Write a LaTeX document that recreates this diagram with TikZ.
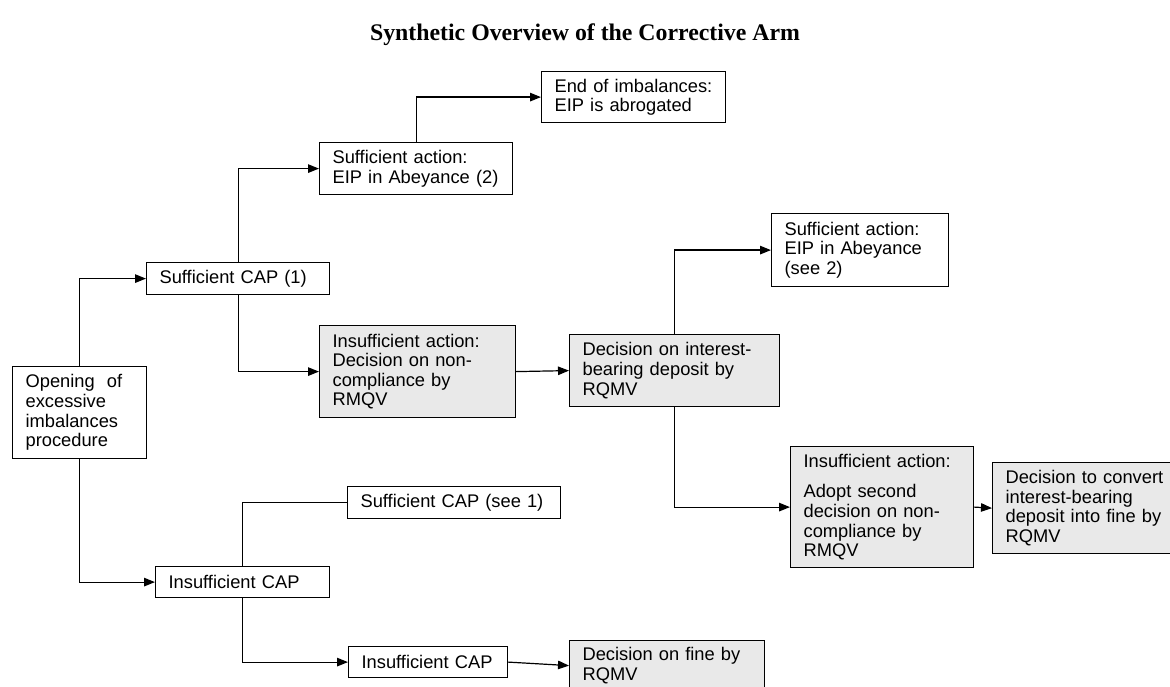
\documentclass[tikz,border=0pt]{standalone}
\usepackage{fontspec}
\newfontfamily\arialf{Liberation Sans}
\newfontfamily\timesf{Liberation Serif}
\usetikzlibrary{arrows.meta}
\definecolor{boxgray}{RGB}{233,233,233}
\begin{document}
\begin{tikzpicture}[x=1pt,y=-1pt,
  bx/.style={draw, line width=1.2pt, anchor=north west, inner xsep=13pt, inner ysep=0pt,
     align=left, font=\arialf\fontsize{18.3}{19.6}\selectfont},
  gbx/.style={bx, fill=boxgray},
  conn/.style={line width=1.2pt, -{Triangle[length=11pt,width=8.5pt]}},
  plain/.style={line width=1pt}]
\useasboundingbox (0,0) rectangle (1170,687);
\node[font=\timesf\bfseries\fontsize{23.8}{28}\selectfont] (title) at (585,35) {Synthetic Overview of the Corrective Arm};

\node[bx, minimum width=134pt, minimum height=92pt, text width=108pt] (open) at (12,366) {Opening\ \ of\\excessive\\imbalances\\procedure};
\node[bx, minimum width=183pt, minimum height=32pt, text width=157pt] (scap1) at (146,262) {Sufficient CAP (1)};
\node[bx, minimum width=193pt, minimum height=52pt, text width=167pt] (sact2) at (319,142) {Sufficient action:\\EIP in Abeyance (2)};
\node[bx, minimum width=184pt, minimum height=51pt, text width=158pt] (end) at (541,71) {End of imbalances:\\EIP is abrogated};
\node[gbx, minimum width=196pt, minimum height=92pt, text width=170pt] (iact) at (319,325) {Insufficient action:\\Decision on non-\\compliance by\\RMQV};
\node[gbx, minimum width=210pt, minimum height=72pt, text width=184pt] (dint) at (569,334) {Decision on interest-\\bearing deposit by\\RQMV};
\node[bx, minimum width=177pt, minimum height=73pt, text width=151pt] (see2) at (771,213) {Sufficient action:\\EIP in Abeyance\\(see 2)};
\node[gbx, minimum width=183pt, minimum height=121pt, text width=157pt] (iact2) at (790,446) {Insufficient action:\\[11pt]Adopt second\\decision on non-\\compliance by\\RMQV};
\node[gbx, minimum width=186pt, minimum height=91pt, text width=160pt] (conv) at (992,462) {Decision to convert\\interest-bearing\\deposit into fine by\\RQMV};
\node[bx, minimum width=174pt, minimum height=31pt, text width=148pt] (icap) at (155,566) {Insufficient CAP};
\node[bx, minimum width=213pt, minimum height=32pt, text width=187pt] (scap3) at (347,486) {Sufficient CAP (see 1)};
\node[bx, minimum width=159pt, minimum height=31pt, text width=133pt] (icap2) at (348,646) {Insufficient CAP};
\node[gbx, minimum width=195pt, minimum height=50pt, text width=169pt] (fine) at (569,640) {Decision on fine by\\RQMV};

\draw[conn] (open.north) |- (scap1.west);
\draw[conn] (open.south) |- (icap.west);
\draw[conn] (scap1.north) |- (sact2.west);
\draw[conn] (scap1.south) |- (iact.west);
\draw[conn] (sact2.north) |- (end.west);
\draw[conn] (iact.east) -- (dint.west);
\draw[conn] (dint.north) |- (see2.west);
\draw[conn] (dint.south) |- (iact2.west);
\draw[conn] (iact2.east) -- (conv.west);
\draw[plain] (icap.north) |- (scap3.west);
\draw[conn] (icap.south) |- (icap2.west);
\draw[conn] (icap2.east) -- (fine.west);
\end{tikzpicture}
\end{document}
